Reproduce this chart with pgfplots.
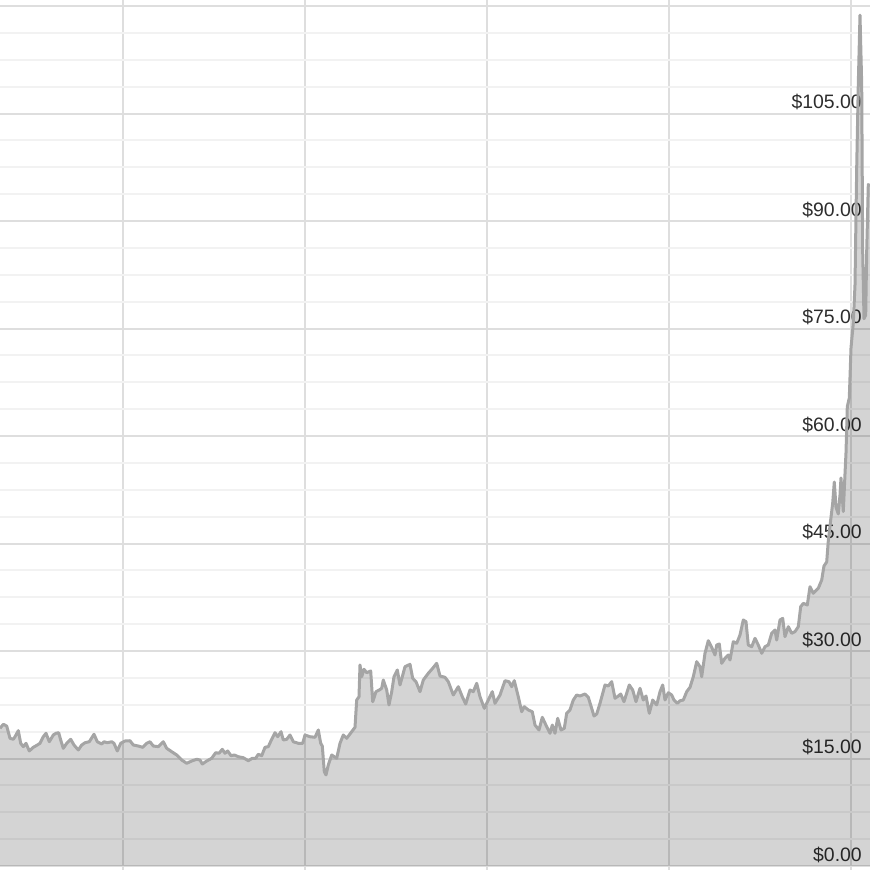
\documentclass[border=0pt]{standalone}
\usepackage{fontspec}
\setmainfont{Liberation Sans}
\usepackage{pgfplots}
\usepackage{pgfplotstable}
\pgfplotsset{compat=1.18}
\definecolor{majgrid}{RGB}{222,222,222}
\definecolor{mingrid}{RGB}{242,242,242}
\definecolor{linegray}{RGB}{165,165,165}
\definecolor{labelgray}{RGB}{45,45,45}
\pgfplotsset{layers/labelsontop/.define layer set={axis background,axis grid,axis ticks,axis lines,main,axis tick labels,axis descriptions,axis foreground}{}}

\pgfplotstableread{
x y
0 19.21
3.3 19.77
6.7 19.53
10 17.82
13.3 17.68
15 18.04
18.3 18.88
20.7 17.12
23.3 16.65
26 17.12
29.3 16.05
33.3 16.56
37.3 16.88
40 17.12
43.3 18.04
46 18.52
49.3 17.34
53.3 18.28
56 18.52
58.7 18.60
60.7 17.58
63.3 16.42
66.7 17.12
70.7 17.68
74 16.88
78.3 16.19
81.7 16.88
85 17.20
89.3 17.34
94 18.38
97.3 17.34
101.7 17.02
104 17.34
107.3 17.20
111.7 17.34
114 17.12
117.3 16.05
120.7 17.12
125 17.44
130 17.48
133.3 16.88
138.3 16.74
142.7 16.56
146.7 17.12
150 17.34
153.3 16.74
158.3 16.65
163.3 17.34
166.7 16.42
171.7 15.95
176.7 15.49
181.7 14.79
186.7 14.33
191.7 14.65
196.7 14.89
200 14.79
202.3 14.23
206.7 14.65
211.7 15.03
215.7 15.81
219 15.73
222.3 16.28
225 15.73
227.7 16.05
231 15.39
234.3 15.49
238.3 15.25
243.3 15.11
248.3 14.69
252.3 15.03
255.7 15.03
258.3 15.59
261.7 15.39
265 16.56
268.3 16.65
271 17.48
275 18.60
277.7 18.04
281 18.74
283.3 17.58
286.7 17.68
290 18.28
293.3 17.34
298.3 17.12
302.7 17.12
305 18.28
310 18.04
315 17.96
318.3 18.98
320.7 17.12
322.3 16.74
324.3 13.16
326 12.70
328.3 14.09
331.7 15.49
336.7 15.03
340 17.12
343.3 18.28
346.7 17.82
351.7 18.74
355 19.35
356.7 23.16
359 23.62
360 28.05
361.7 26.41
364 27.45
366.7 26.97
370.7 27.21
372.7 22.92
376 24.32
379.3 24.56
381.7 24.80
383.3 25.95
386.7 24.56
389 22.47
391.7 24.32
394 26.41
397.3 27.35
400 25.26
402.3 26.41
405 27.81
410 28.14
412.7 26.19
416 25.72
420 24.32
423.3 25.95
428.3 26.89
432.7 27.59
436.7 28.28
440 26.51
445 26.33
448.3 25.72
453.3 23.86
458.3 25.02
462.3 23.62
465.7 22.60
470 24.56
473.3 24.32
476.7 25.49
480 23.62
484.3 22.00
488.3 23.16
492.3 24.32
495 22.70
500 23.86
505 25.86
509 25.72
511.7 25.02
514.3 25.86
518.3 23.62
521.7 21.53
524.3 22.23
528.3 21.77
532.3 21.53
535 19.67
539 18.98
542.3 20.75
546.7 19.44
550 18.52
552.3 19.67
555 18.52
557.7 20.61
561 18.98
564.3 19.21
566.7 21.31
570 21.77
573.3 23.16
576.7 23.86
580 23.72
585 24.00
588.3 23.54
591.7 22.00
594 20.93
596.7 21.21
600 22.70
605 25.26
608.3 25.12
611.7 25.72
615 23.40
618.3 23.72
620.7 24.00
624 22.92
629.3 25.26
632.7 24.56
636 22.92
640 24.80
643.3 23.16
646 23.72
649.3 21.31
652.7 23.16
656.7 22.47
660 24.32
662.7 25.26
665 23.16
668.3 24.18
671.7 23.86
674 23.16
677.3 22.70
680 23.06
683.3 23.16
686.7 24.32
690 24.93
693.3 26.41
696.7 28.51
700 27.81
701.7 26.41
705 29.68
708.3 31.44
711.7 30.52
715 29.44
716.7 30.84
719.3 30.98
721.7 28.28
725 28.98
728.3 29.44
730 28.74
733.3 31.30
736.7 31.07
740 32.23
743.3 34.33
746 34.09
748.3 30.84
751.7 30.60
755 31.77
758.3 30.84
761.7 29.68
765 30.60
768.3 30.84
771.7 32.47
775 32.93
776.7 31.53
780 34.33
782.7 34.56
785 32.00
788.3 33.39
791.7 32.47
795 32.70
798.3 33.39
800.7 36.18
803.3 36.65
807.3 36.42
810 38.97
813.3 38.05
818.3 38.75
821.7 39.91
824 41.86
826.7 42.42
828.3 45.35
830.7 48.28
832.7 50.65
834.3 53.58
836 50.09
838.3 49.12
840 51.77
841 54.14
843.3 49.46
845 54.70
846 57.63
847.3 64.09
849.3 65.30
851 72.28
853.3 75.77
855 81.07
856.7 97.40
858.3 109.11
860 118.74
861.7 109.11
862.7 85.73
864 76.37
865.7 76.88
866.7 85.73
868.3 95.09
870 94.88
}\price

\begin{document}
\begin{tikzpicture}
\begin{axis}[
  set layers=labelsontop,
  scale only axis,
  width=870bp, height=866bp,
  xmin=0, xmax=870, ymin=0, ymax=120.84,
  axis line style={draw=none},
  xtick={123,305,487,669,851},
  xticklabels={},
  ytick={0,15,...,120},
  yticklabels={\$0.00,\$15.00,\$30.00,\$45.00,\$60.00,\$75.00,\$90.00,\$105.00,{}},
  minor y tick num=3,
  xmajorgrids, ymajorgrids, yminorgrids,
  major grid style={draw=majgrid, line width=2bp},
  minor grid style={draw=mingrid, line width=2bp},
  yticklabel pos=right,
  yticklabel style={anchor=base east, inner sep=0pt, xshift=-8bp, yshift=5bp,
    font=\fontsize{19.5}{19.5}\selectfont, text=labelgray},
  tick style={draw=majgrid, line width=2bp},
  major tick length=4bp, minor tick length=0pt,
  xtick align=outside, ytick align=inside,
  xtick pos=left,
]
\addplot[draw=none, fill=black, fill opacity=0.17] table[x=x, y=y] {\price} \closedcycle;
\addplot[draw=linegray, line width=3bp, line join=round] table[x=x, y=y] {\price};
\coordinate (sw) at (rel axis cs:0,0);
\coordinate (ne) at (rel axis cs:1,1);
\end{axis}
\pgfresetboundingbox
\path ([yshift=-4bp]sw) rectangle (ne);
\end{tikzpicture}
\end{document}
